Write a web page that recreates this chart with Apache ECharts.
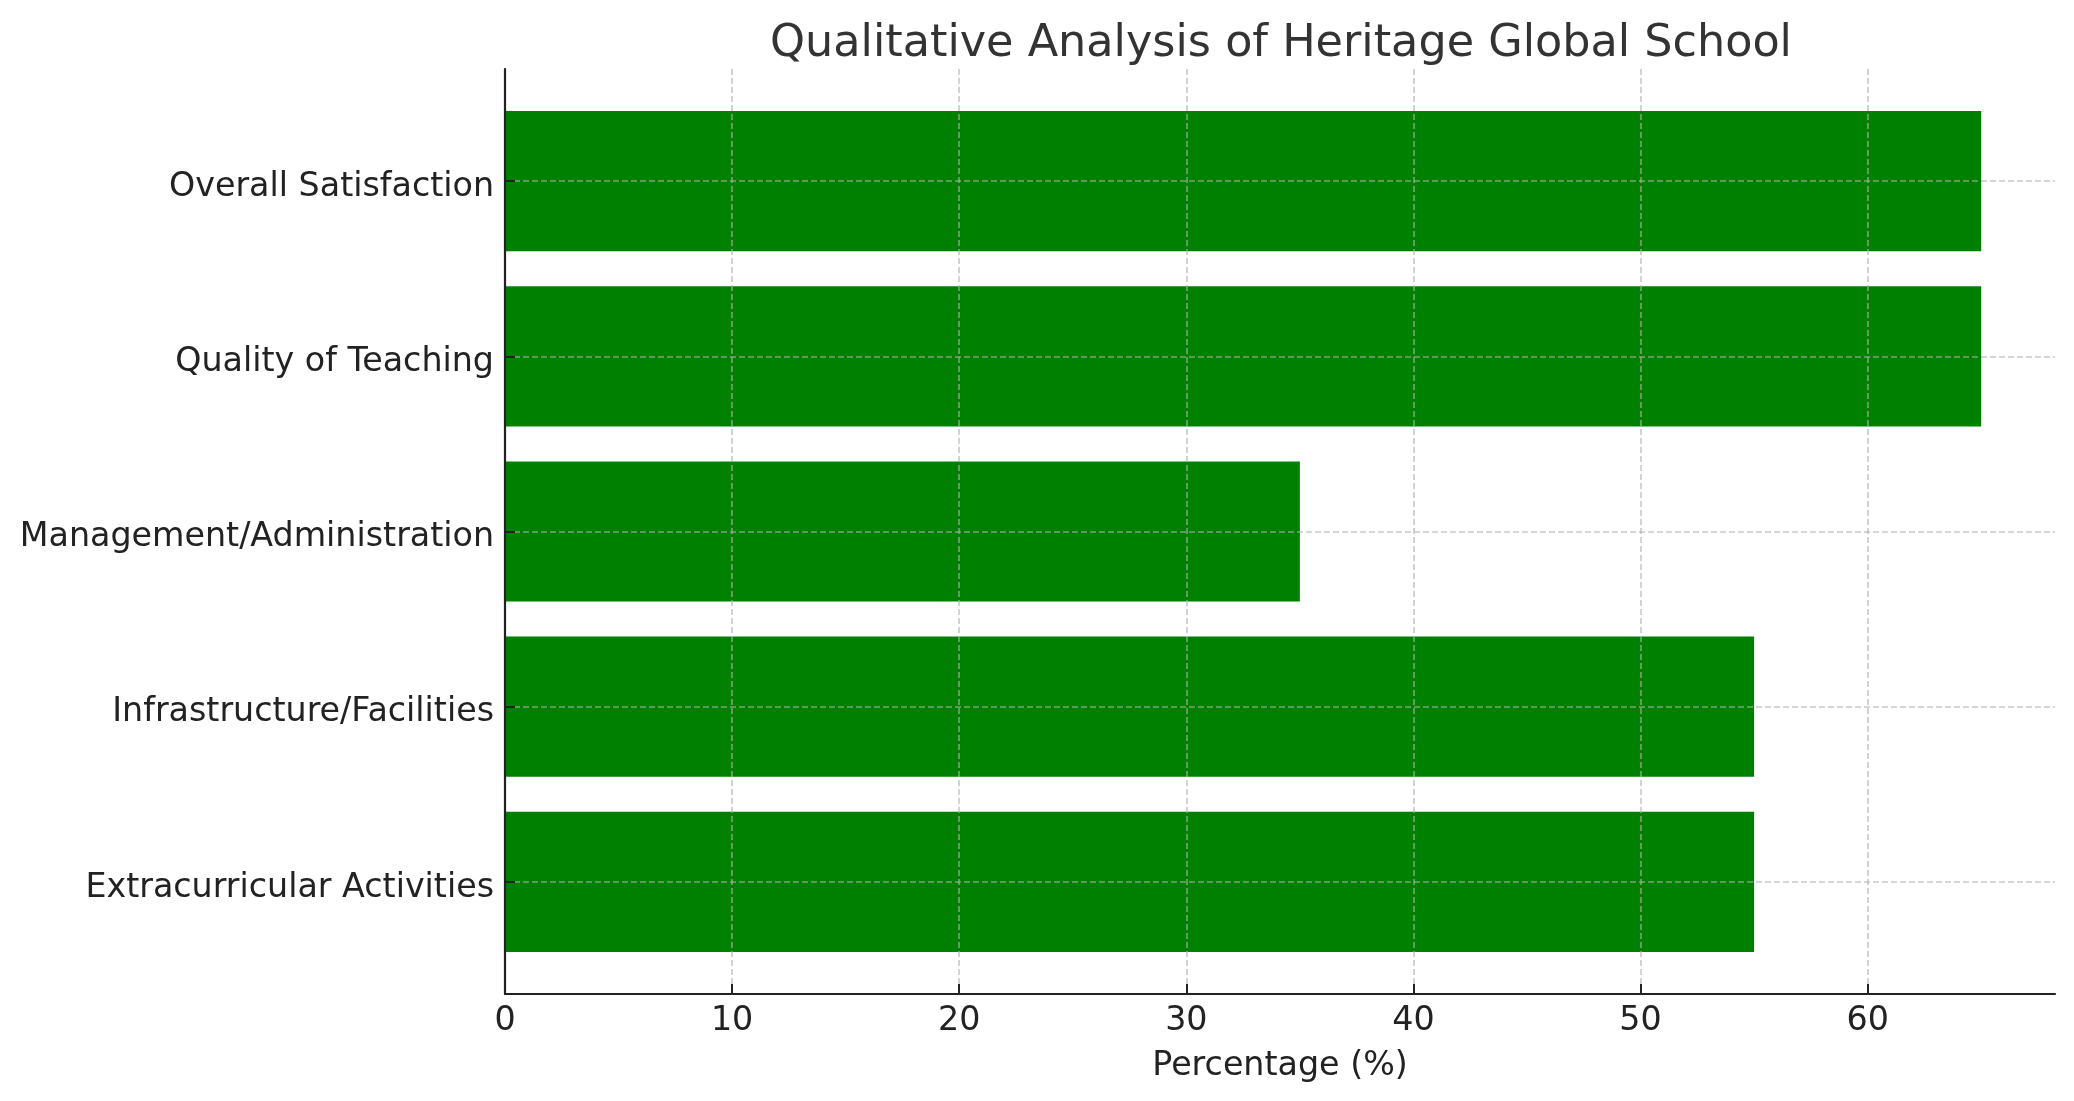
<!DOCTYPE html>
<html>
<head>
<meta charset="utf-8">
<script src="https://cdn.jsdelivr.net/npm/echarts@6/dist/echarts.min.js"></script>
<style>
html,body{margin:0;padding:0;background:#fff;}
#chart{width:2074px;height:1101px;}
</style>
</head>
<body>
<div id="chart"></div>
<script>
const categories = ["Extracurricular Activities", "Infrastructure/Facilities", "Management/Administration", "Quality of Teaching", "Overall Satisfaction"];
const percentages = [55, 55, 35, 65, 65];
const xTicks = [0, 10, 20, 30, 40, 50, 60];
const yTicks = [0, 1, 2, 3, 4];

const FONT = '"DejaVu Sans", sans-serif';
const chart = echarts.init(document.getElementById('chart'), null, {renderer: 'canvas'});
const gridLine = {show: true, lineStyle: {color: 'rgba(176,176,176,0.7)', width: 1.6, type: [6, 3]}};

chart.setOption({
  backgroundColor: '#ffffff',
  animation: false,
  title: {
    text: 'Qualitative Analysis of Heritage Global School',
    left: 1276, top: 17, textAlign: 'center',
    textStyle: {fontFamily: FONT, fontSize: 44.5, fontWeight: 'normal', color: '#333333'}
  },
  grid: {left: 505, right: 19, top: 69, bottom: 107, containLabel: false},
  xAxis: {
    type: 'value', min: 0, max: 68.25,
    name: 'Percentage (%)', nameLocation: 'middle', nameGap: 56,
    nameTextStyle: {fontFamily: FONT, fontSize: 33.3, color: '#222222'},
    axisLine: {show: true, onZero: false, lineStyle: {color: '#222222', width: 2.2}},
    axisTick: {show: true, inside: true, length: 10, customValues: xTicks, lineStyle: {color: '#222222', width: 2}},
    axisLabel: {show: true, customValues: xTicks, margin: 11, fontFamily: FONT, fontSize: 33.3, color: '#222222'},
    splitLine: gridLine
  },
  yAxis: {
    type: 'value', min: -0.64, max: 4.64,
    axisLine: {show: true, onZero: false, lineStyle: {color: '#222222', width: 2.2}},
    axisTick: {show: true, inside: true, length: 10, customValues: yTicks, lineStyle: {color: '#222222', width: 2}},
    axisLabel: {show: true, customValues: yTicks, margin: 11, fontFamily: FONT, fontSize: 33.3, color: '#222222',
      formatter: function (v) { return '{c|' + (categories[Math.round(v)] || '') + '}'; },
      rich: {c: {fontFamily: FONT, fontSize: 33.3, color: '#222222', padding: [12, 0, 0, 0]}}},
    splitLine: gridLine
  },
  series: [{
    type: 'custom',
    z: -1,
    encode: {x: 0, y: 1},
    data: percentages.map(function (v, i) { return [v, i]; }),
    renderItem: function (params, api) {
      const val = api.value(0), idx = api.value(1);
      const s = api.coord([0, idx]);
      const e = api.coord([val, idx]);
      const h = api.size([0, 0.8])[1];
      return {type: 'rect', shape: {x: s[0], y: s[1] - h / 2, width: e[0] - s[0], height: h}, style: {fill: '#008000'}};
    }
  }]
});
</script>
</body>
</html>
